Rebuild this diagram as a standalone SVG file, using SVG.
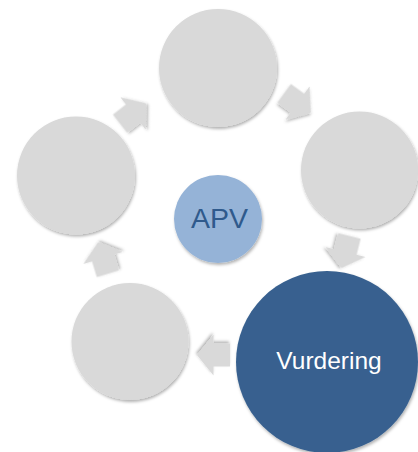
<svg xmlns="http://www.w3.org/2000/svg" width="418" height="452" viewBox="0 0 418 452">
<defs>
<filter id="sh" x="-20%" y="-20%" width="140%" height="140%">
<feDropShadow dx="1" dy="2" stdDeviation="1.5" flood-color="#000" flood-opacity="0.3"/>
</filter>
<path id="arr" d="M-16.5,-11.5 L0,-11.5 L0,-20.5 L16.5,0 L0,20.5 L0,11.5 L-16.5,11.5 Z"/>
</defs>
<style>
.node{fill:#d9d9d9;filter:url(#sh)}
.arrow{fill:#d9d9d9;filter:url(#sh)}
.lbl{font-family:"Liberation Sans",Arial,sans-serif;text-anchor:middle}
</style>
<rect width="418" height="452" fill="#ffffff"/>
<g id="connectors">
<use href="#arr" class="arrow" transform="translate(133,113.5) rotate(-38)"/>
<use href="#arr" class="arrow" transform="translate(297.5,103) rotate(36)"/>
<use href="#arr" class="arrow" transform="translate(345.5,252) rotate(104)"/>
<use href="#arr" class="arrow" transform="translate(213.5,355) rotate(180)"/>
<use href="#arr" class="arrow" transform="translate(103,258) rotate(253)"/>
</g>
<g id="node-top"><circle class="node" cx="218" cy="68" r="59"/></g>
<g id="node-right"><circle class="node" cx="359.5" cy="170" r="58.5"/></g>
<g id="node-left"><circle class="node" cx="76" cy="175.5" r="59"/></g>
<g id="node-bottomleft"><circle class="node" cx="130" cy="341.5" r="58.5"/></g>
<g id="node-vurdering">
<circle cx="327" cy="362" r="91" fill="#38618f" filter="url(#sh)"/>
<text class="lbl" x="329" y="369" font-size="24.5" fill="#ffffff">Vurdering</text>
</g>
<g id="node-apv">
<circle cx="218" cy="219" r="44" fill="#95b3d7" filter="url(#sh)"/>
<text class="lbl" x="219.5" y="228" font-size="28.5" fill="#2f5a8c">APV</text>
</g>
</svg>
